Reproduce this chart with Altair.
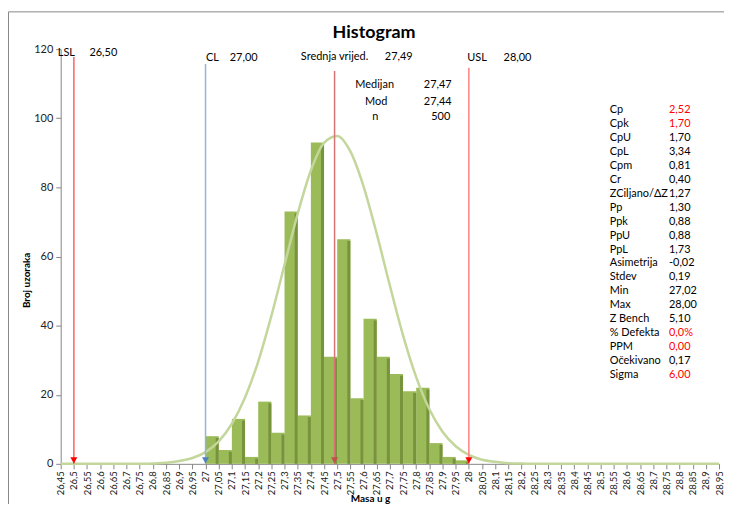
import altair as alt
import pandas as pd

FONT = "Lato"

# ---------------- data ----------------
x_ticks = [26.45, 26.50, 26.55, 26.60, 26.65, 26.70, 26.75, 26.80, 26.85, 26.90,
           26.95, 27.00, 27.05, 27.10, 27.15, 27.20, 27.25, 27.30, 27.35, 27.40,
           27.45, 27.50, 27.55, 27.60, 27.65, 27.70, 27.75, 27.80, 27.85, 27.90,
           27.95, 28.00, 28.05, 28.10, 28.15, 28.20, 28.25, 28.30, 28.35, 28.40,
           28.45, 28.50, 28.55, 28.60, 28.65, 28.70, 28.75, 28.80, 28.85, 28.90,
           28.95]
y_ticks = [0, 20, 40, 60, 80, 100, 120]

# normal curve, read at each tick
curve_y = [0, 0, 0, 0, 0, 0, 0, 0.1, 0.3, 0.8,
           1.7, 3.4, 6.5, 11.6, 19.2, 29.6, 42.8, 57.6, 72.4, 84.9,
           92.9, 94.9, 90.4, 80.3, 66.6, 51.6, 37.2, 25.1, 15.8, 9.3,
           5.1, 2.6, 1.2, 0.6, 0.2, 0.1, 0, 0, 0, 0,
           0, 0, 0, 0, 0, 0, 0, 0, 0, 0,
           0]

bin_start = [27.00, 27.05, 27.10, 27.15, 27.20, 27.25, 27.30, 27.35, 27.40, 27.45,
             27.50, 27.55, 27.60, 27.65, 27.70, 27.75, 27.80, 27.85, 27.90, 27.95]
counts = [8, 4, 13, 2, 18, 9, 73, 14, 93, 31,
          65, 19, 42, 31, 26, 21, 22, 6, 2, 1]

spec_names = ["LSL", "CL", "Srednja vrijed.", "USL"]
spec_values = [26.50, 27.00, 27.49, 28.00]
spec_texts = ["26,50", "27,00", "27,49", "28,00"]

center_names = ["Medijan", "Mod", "n"]
center_texts = ["27,47", "27,44", "500"]

stat_names = ["Cp", "Cpk", "CpU", "CpL", "Cpm", "Cr", "ZCiljano/ΔZ", "Pp", "Ppk", "PpU",
              "PpL", "Asimetrija", "Stdev", "Min", "Max", "Z Bench", "% Defekta", "PPM",
              "Očekivano", "Sigma"]
stat_texts = ["2,52", "1,70", "1,70", "3,34", "0,81", "0,40", "1,27", "1,30", "0,88", "0,88",
              "1,73", "-0,02", "0,19", "27,02", "28,00", "5,10", "0,0%", "0,00",
              "0,17", "6,00"]
red_stats = ["Cp", "Cpk", "% Defekta", "PPM", "Sigma"]

title_text = "Histogram"
x_title = "Masa u g"
y_title = "Broj uzoraka"

# ---------------- styles / positions ----------------
line_colors = ["#ff6161", "#95b3d7", "#d77575", "#ff8080"]
tri_colors = ["#ff0000", "#4f81bd", "#c0504d", "#ff0000"]
line_tops = [117.7, 115.7, 113.7, 114.6]
name_x = [26.439, 27.002, 27.362, 27.994]
text_x = [26.559, 27.092, 27.681, 28.132]
label_y = [118.85, 117.4, 117.85, 117.4]

center_name_x = [27.569, 27.606, 27.633]
center_text_x = [27.829, 27.829, 27.857]
center_y = [109.5, 104.75, 100.35]

stat_name_x = 28.535
stat_text_x = 28.76
stat_top = 102.45
stat_step = 4.043

title_x = 27.64
title_y = 124.6

bars = pd.DataFrame({"start": bin_start, "count": counts})
curve = pd.DataFrame({"x": x_ticks, "y": curve_y})
specs = pd.DataFrame({"name": spec_names, "value": spec_values, "txt": spec_texts,
                      "top": line_tops, "nx": name_x, "tx": text_x, "ly": label_y,
                      "zero": [0] * len(spec_names)})
centers = pd.DataFrame({"name": center_names, "txt": center_texts,
                        "nx": center_name_x, "tx": center_text_x, "y": center_y})
stats = pd.DataFrame({"name": stat_names, "txt": stat_texts})
stats["y"] = [stat_top - i * stat_step for i in range(len(stat_names))]
stats["nx"] = stat_name_x
stats["tx"] = stat_text_x
stats["hl"] = [n in red_stats for n in stat_names]
titles = pd.DataFrame({"t": [title_text], "x": [title_x], "y": [title_y]})

xscale = alt.Scale(domain=[26.45, 28.95], nice=False, zero=False)
yscale = alt.Scale(domain=[0, 120], nice=False)

label_expr = "replace(format(datum.value, '.2~f'), '.', ',')"

xaxis = alt.Axis(values=x_ticks, labelExpr=label_expr, labelAngle=270, labelAlign="right",
                 labelBaseline="middle", labelOverlap=False, labelFlush=False,
                 labelFontSize=9.5, labelPadding=2, labelFont=FONT, labelColor="#222222",
                 tickSize=5, tickColor="#868686", domainColor="#868686", grid=False,
                 title=x_title, titleFont=FONT, titleFontSize=10, titleFontWeight="bold",
                 titleX=311, titleY=35, titleAlign="center", titleBaseline="middle",
                 titleColor="#000000")
yaxis = alt.Axis(values=y_ticks, labelFontSize=11, labelFont=FONT,
                 labelColor="#222222", labelPadding=3, tickSize=5, tickColor="#868686",
                 domainColor="#868686", grid=False,
                 title=y_title, titleFont=FONT, titleFontSize=10, titleFontWeight="bold",
                 titleAngle=270, titleX=-34, titleY=232, titleAlign="center",
                 titleBaseline="middle", titleColor="#000000")


def X(field):
    return alt.X(field, scale=xscale, axis=xaxis)


def Y(field):
    return alt.Y(field, scale=yscale, axis=yaxis)


base_bars = alt.Chart(bars).transform_calculate(
    end="datum.start + 0.05", shade="datum.start + 0.0385", ytop="datum.count - 0.5",
    zero="0"
)

light = base_bars.mark_rect(color="#9bbb59").encode(
    x=X("start:Q"), x2="end:Q", y=Y("count:Q"), y2="zero:Q",
)
dark = base_bars.mark_rect(color="#77933c").encode(
    x=X("shade:Q"), x2="end:Q", y=Y("ytop:Q"), y2="zero:Q",
)

curve_line = alt.Chart(curve).mark_line(color="#c3d69b", strokeWidth=2.5,
                                         interpolate="monotone").encode(
    x=X("x:Q"), y=Y("y:Q"),
)

rules = alt.Chart(specs).mark_rule(strokeWidth=1.5).encode(
    x=X("value:Q"), y=Y("top:Q"), y2="zero:Q",
    color=alt.Color("name:N", scale=alt.Scale(domain=spec_names, range=line_colors), legend=None),
)

tris = alt.Chart(specs).mark_point(shape="triangle-down", filled=True, size=50, opacity=1,
                                   yOffset=-3.5).encode(
    x=X("value:Q"), y=Y("zero:Q"),
    fill=alt.Fill("name:N", scale=alt.Scale(domain=spec_names, range=tri_colors), legend=None),
)

txt_props = dict(align="left", baseline="middle", font=FONT, fontSize=11, color="#000000")

spec_name_txt = alt.Chart(specs).mark_text(**txt_props).encode(
    x=X("nx:Q"), y=Y("ly:Q"), text="name:N")
spec_val_txt = alt.Chart(specs).mark_text(**txt_props).encode(
    x=X("tx:Q"), y=Y("ly:Q"), text="txt:N")
center_name_txt = alt.Chart(centers).mark_text(**txt_props).encode(
    x=X("nx:Q"), y=Y("y:Q"), text="name:N")
center_val_txt = alt.Chart(centers).mark_text(**txt_props).encode(
    x=X("tx:Q"), y=Y("y:Q"), text="txt:N")
stat_name_txt = alt.Chart(stats).mark_text(**txt_props).encode(
    x=X("nx:Q"), y=Y("y:Q"), text="name:N")
stat_val_txt = alt.Chart(stats).mark_text(align="left", baseline="middle", font=FONT,
                                          fontSize=11).encode(
    x=X("tx:Q"), y=Y("y:Q"), text="txt:N",
    color=alt.condition("datum.hl", alt.value("#ff0000"), alt.value("#000000")),
)
title_txt = alt.Chart(titles).mark_text(align="center", baseline="middle", font=FONT,
                                        fontSize=18, fontWeight="bold", color="#000000").encode(
    x=X("x:Q"), y=Y("y:Q"), text="t:N")

# chart-area border (top and left edges; the rest runs off the picture)
one = pd.DataFrame({"a": [0]})
frame_top = alt.Chart(one).mark_rule(color="#868686", strokeWidth=1).encode(
    x=alt.value(-52.5), x2=alt.value(700), y=alt.value(-37.5))
frame_left = alt.Chart(one).mark_rule(color="#868686", strokeWidth=1).encode(
    x=alt.value(-52.5), y=alt.value(-37.5), y2=alt.value(500))

chart = alt.layer(
    light, dark, curve_line, rules, tris,
    spec_name_txt, spec_val_txt, center_name_txt, center_val_txt,
    stat_name_txt, stat_val_txt, title_txt, frame_top, frame_left,
).properties(
    width=662, height=417,
    padding={"left": 53, "top": 40, "right": 5, "bottom": 39},
    autosize=alt.AutoSizeParams(type="none"),
    background="white",
).configure_view(strokeWidth=0)

chart.save("out.html", embed_options={"renderer": "svg", "actions": False})
